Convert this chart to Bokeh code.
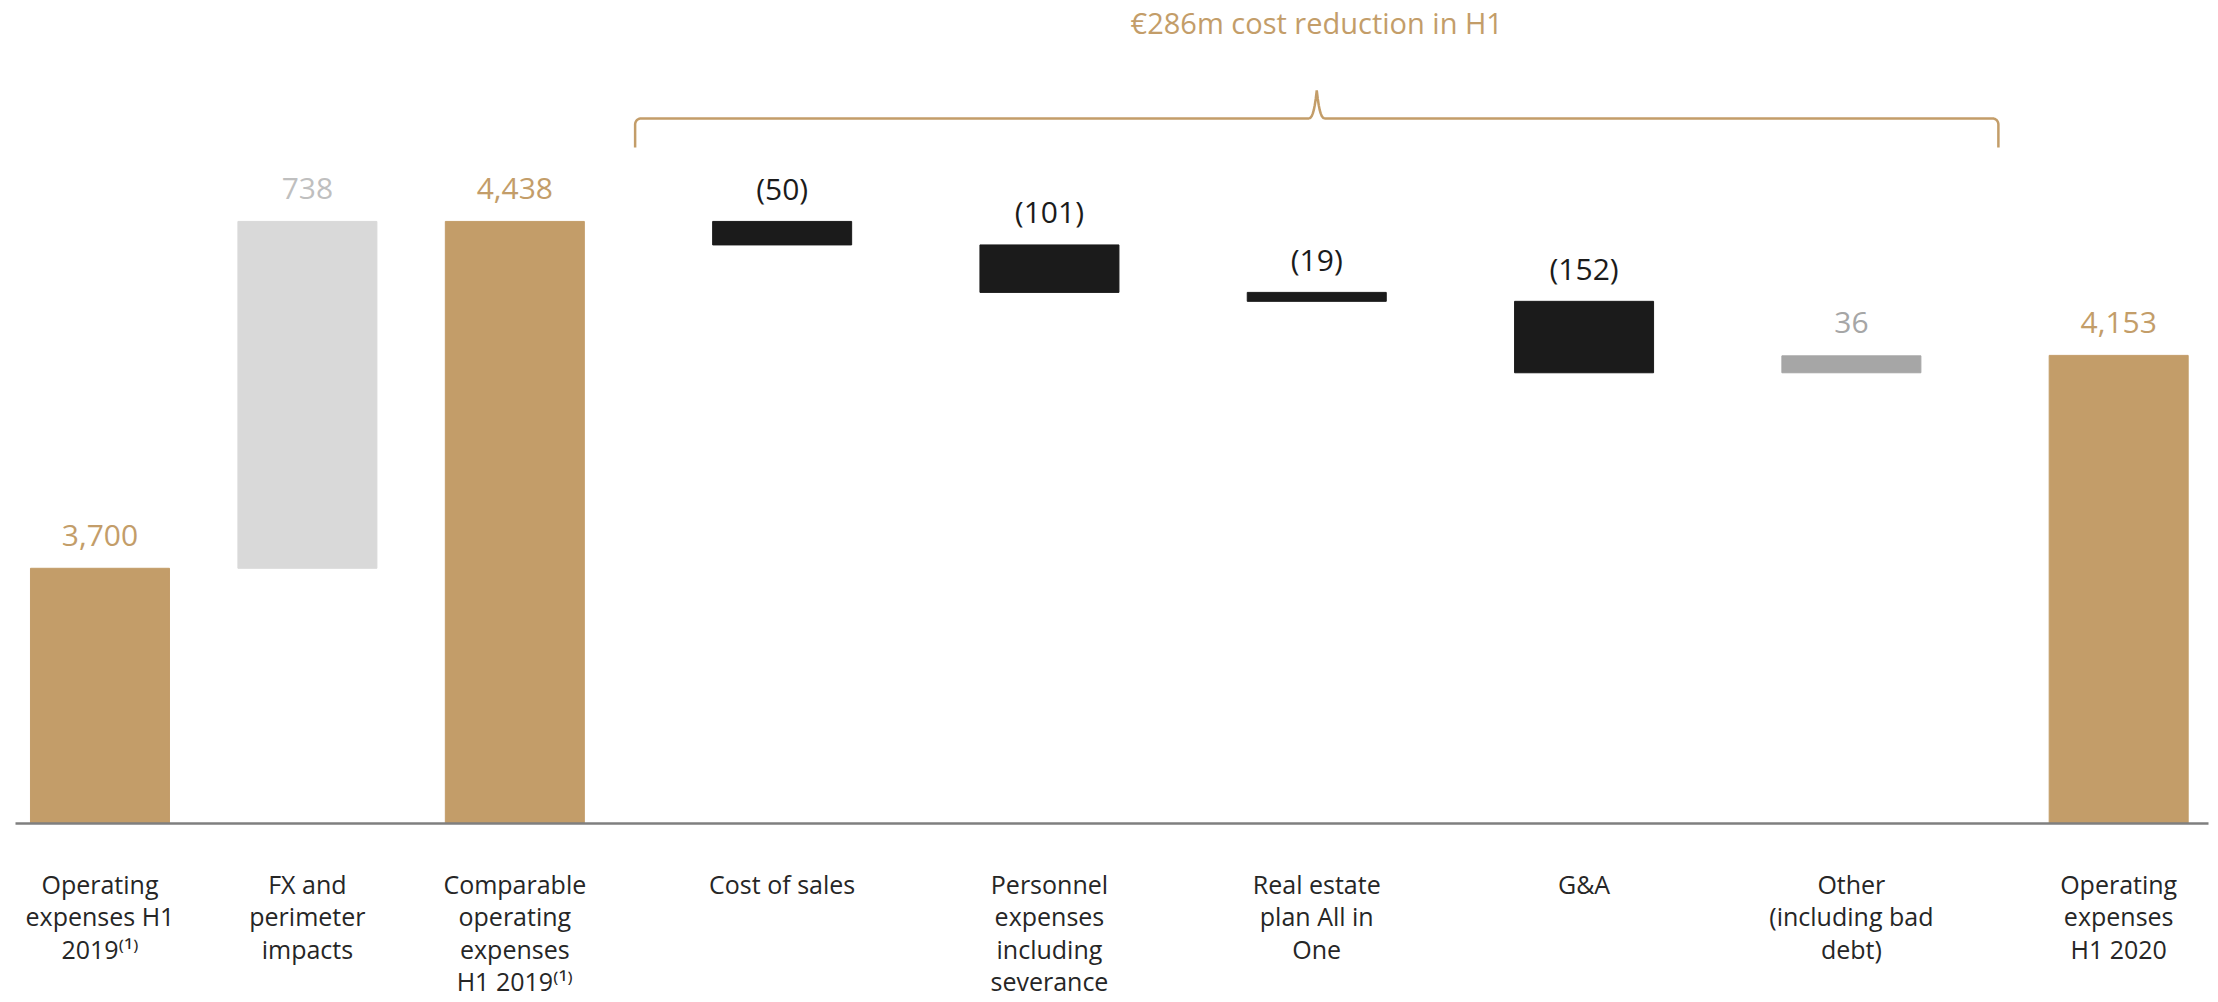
import numpy as np
from bokeh.plotting import figure
from bokeh.models import FixedTicker, ColumnDataSource, Range1d
from bokeh.core.properties import value
from bokeh.embed import file_html
from bokeh.resources import INLINE

# ---------------- data ----------------
categories = [
    "Operating\nexpenses H1\n2019\u207d\u00b9\u207e",
    "FX and\nperimeter\nimpacts",
    "Comparable\noperating\nexpenses\nH1 2019\u207d\u00b9\u207e",
    "Cost of sales",
    "Personnel\nexpenses\nincluding\nseverance",
    "Real estate\nplan All in\nOne",
    "G&A",
    "Other\n(including bad\ndebt)",
    "Operating\nexpenses\nH1 2020",
]
values = [3700, 738, 4438, -50, -101, -19, -152, 36, 4153]
kinds = ["total", "delta", "total", "delta", "delta", "delta", "delta", "delta", "total"]
title_text = "\u20ac286m cost reduction in H1"

# ---------------- styles ----------------
GOLD = "#C39D69"
FONT = "Open Sans"
bar_colors = [GOLD, "#D9D9D9", GOLD, "#1B1B1B", "#1B1B1B", "#1B1B1B", "#1B1B1B", "#A6A6A6", GOLD]
label_colors = [GOLD, "#BFBFBF", GOLD, "#1B1B1B", "#1B1B1B", "#1B1B1B", "#1B1B1B", "#A6A6A6", GOLD]
LEFT_STEP = 0.776      # spacing of the first three columns (relative to the others)
BAR_W = 0.52
PX_X = 267.3           # px per x unit
PX_Y = 0.47            # px per y unit
Y_START = 3157         # broken value axis starts here

# ---------------- waterfall ----------------
bottoms, tops = [], []
level = 0
for v, k in zip(values, kinds):
    if k == "total":
        bottoms.append(0)
        tops.append(v)
        level = v
    else:
        bottoms.append(level)
        tops.append(level + v)
        level += v

xpos = [i * LEFT_STEP if i < 3 else 2 * LEFT_STEP + (i - 2) for i in range(len(categories))]
label_y = [max(b, t) for b, t in zip(bottoms, tops)]
label_txt = [f"({abs(v):,})" if v < 0 else f"{v:,}" for v in values]

src = ColumnDataSource(dict(x=xpos, bottom=bottoms, top=tops, color=bar_colors,
                            ly=label_y, lt=label_txt, lc=label_colors))

p = figure(output_backend="svg", toolbar_location=None,
           frame_width=2193, frame_height=823,
           x_range=Range1d(-0.316, 7.888), y_range=Range1d(Y_START, Y_START + 823 / PX_Y),
           min_border_left=15, min_border_right=10, min_border_top=0, min_border_bottom=0)

p.vbar(x="x", width=BAR_W, bottom="bottom", top="top", color="color", source=src)
p.text(x="x", y="ly", text="lt", text_color="lc", source=src,
       text_font=value(FONT), text_font_size="30px",
       text_align="center", text_baseline="alphabetic", y_offset=-33)

# brace over the cost-reduction columns
top_level = max(tops)
bx0 = xpos[3] - 0.55
bx1 = xpos[7] + 0.55
bxc = (bx0 + bx1) / 2
y_line = top_level + 103 / PX_Y
r = 6
th = np.linspace(0, np.pi / 2, 8)
lx = list(r - r * np.cos(th))
ly = list(-r + r * np.sin(th))
dxs = [0] + lx
dys = [-29] + ly
cw = 9
cx_px = (bxc - bx0) * PX_X
t = np.linspace(0, 1, 10)
dxs += list(cx_px - cw + cw * t) + list(cx_px + cw * t)
dys += list(28 * t ** 3) + list(28 * (1 - t) ** 3)
wpx = (bx1 - bx0) * PX_X
dxs += list(wpx - r + r * np.sin(th)) + [wpx]
dys += list(-r + r * np.cos(th)) + [-29]
brace_x = [bx0 + d / PX_X for d in dxs]
brace_y = [y_line + d / PX_Y for d in dys]
p.line(brace_x, brace_y, line_color=GOLD, line_width=2.5)

p.text(x=[bxc], y=[top_level + 199 / PX_Y], text=[title_text], text_color=GOLD,
       text_font=value(FONT), text_font_size="29px",
       text_align="center", text_baseline="middle")

# axes
p.yaxis.visible = False
p.xgrid.grid_line_color = None
p.ygrid.grid_line_color = None
p.outline_line_color = None
p.xaxis.ticker = FixedTicker(ticks=xpos)
p.xaxis.major_label_overrides = {x: c for x, c in zip(xpos, categories)}
p.xaxis.axis_line_color = "#7F7F7F"
p.xaxis.axis_line_width = 2.5
p.xaxis.major_tick_line_color = None
p.xaxis.minor_tick_line_color = None
p.xaxis.major_label_text_font = FONT
p.xaxis.major_label_text_font_size = "25px"
p.xaxis.major_label_text_color = "#262626"
p.xaxis.major_label_text_line_height = 0.96
p.xaxis.major_label_standoff = 37

open("out.html", "w").write(file_html(p, INLINE))
